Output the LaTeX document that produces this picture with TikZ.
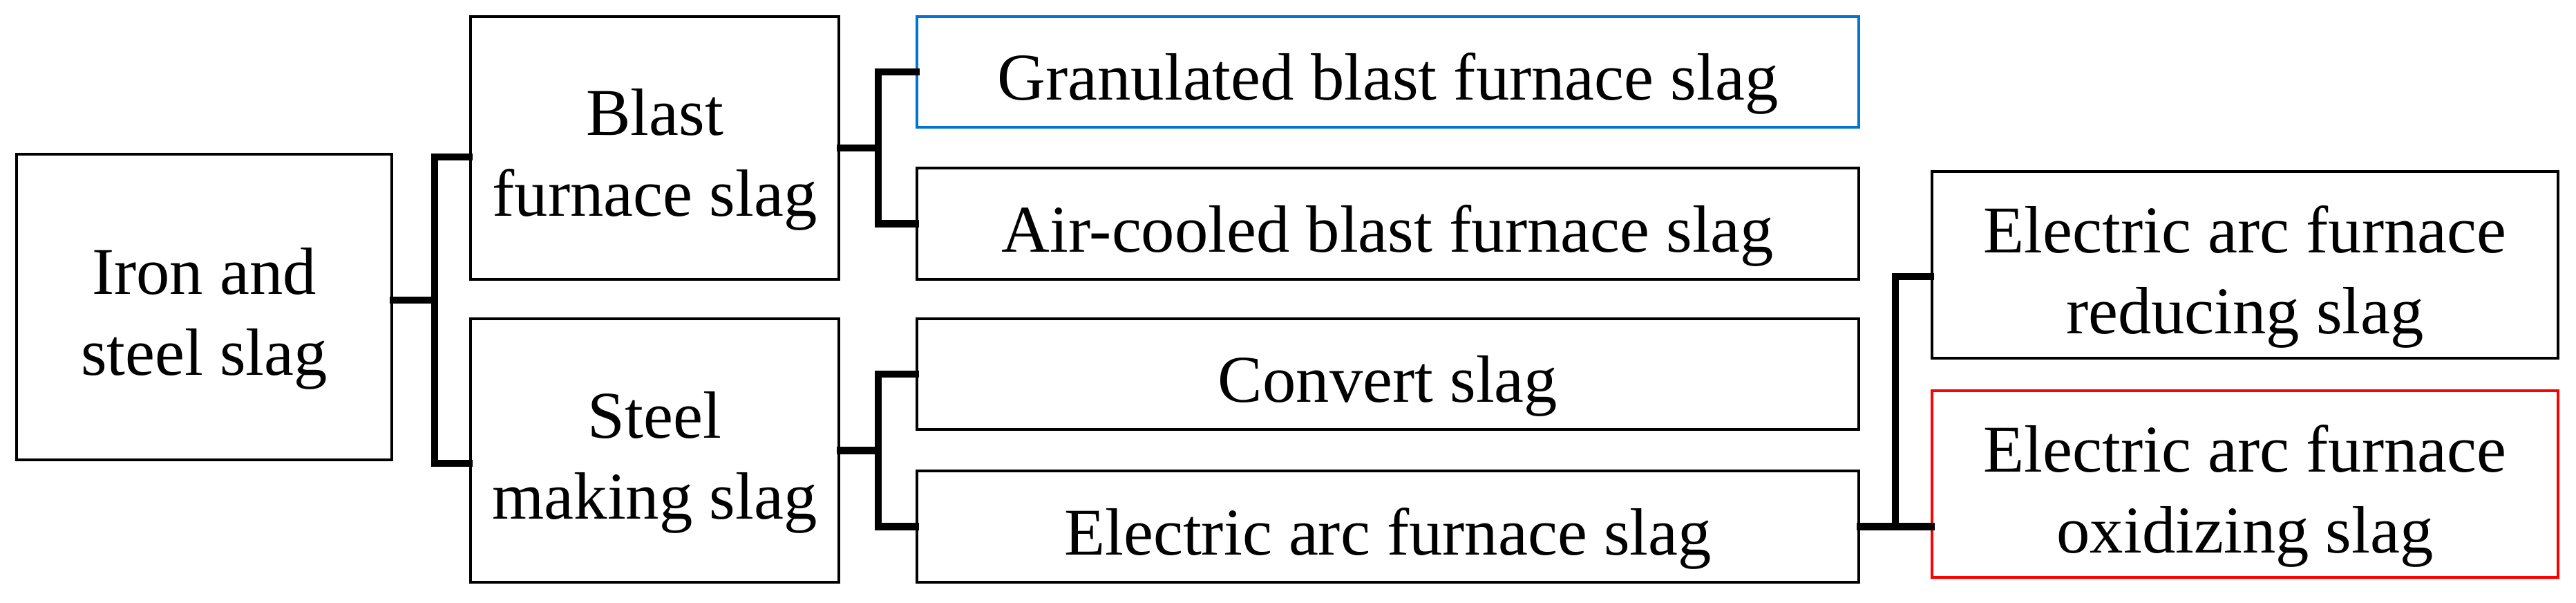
\documentclass[tikz,border=0pt]{standalone}
\usepackage{fontspec}
\setmainfont{Liberation Serif}
\usetikzlibrary{calc}
\definecolor{boxblue}{RGB}{0,116,210}
\definecolor{boxred}{RGB}{255,0,0}
\tikzset{
  box/.style={draw=black, line width=1.3pt, fill=white, inner sep=0pt},
  lbl/.style={align=center, font=\fontsize{27.5pt}{33.3pt}\selectfont, yshift=-0.17cm, inner sep=0pt},
  conn/.style={draw=black, line width=3.1pt, line cap=rect},
}
\begin{document}
\begin{tikzpicture}
\useasboundingbox (0,0) rectangle (37.28,8.72);
% level 1
\node[box, minimum width=5.43cm, minimum height=4.42cm, label={[lbl, name=tRoot]center:{Iron and\\steel slag}}] (root) at (2.955,4.28) {};
% level 2
\node[box, minimum width=5.33cm, minimum height=3.80cm, label={[lbl, name=tBlast]center:{Blast\\furnace slag}}] (blast) at (9.475,6.58) {};
\node[box, minimum width=5.33cm, minimum height=3.81cm, label={[lbl, name=tSteel]center:{Steel\\making slag}}] (steel) at (9.475,2.205) {};
% level 3
\node[box, draw=boxblue, line width=1.1pt, minimum width=13.63cm, minimum height=1.60cm, label={[lbl, name=tGran]center:{Granulated blast furnace slag}}] (gran) at (20.085,7.68) {};
\node[box, minimum width=13.63cm, minimum height=1.61cm, label={[lbl, name=tAir]center:{Air-cooled blast furnace slag}}] (air) at (20.085,5.485) {};
\node[box, minimum width=13.63cm, minimum height=1.60cm, label={[lbl, name=tConv]center:{Convert slag}}] (conv) at (20.085,3.31) {};
\node[box, minimum width=13.63cm, minimum height=1.61cm, label={[lbl, name=tEaf]center:{Electric arc furnace slag}}] (eaf) at (20.085,1.105) {};
% level 4
\node[box, minimum width=9.06cm, minimum height=2.70cm, label={[lbl, name=tRed]center:{Electric arc furnace\\reducing slag}}] (red) at (32.49,4.89) {};
\node[box, draw=boxred, line width=1.1pt, minimum width=9.06cm, minimum height=2.70cm, label={[lbl, name=tOx]center:{Electric arc furnace\\oxidizing slag}}] (ox) at (32.49,1.72) {};
% junction columns and attachment points
\coordinate (k1) at (6.29,0);
\coordinate (k2) at (12.71,0);
\coordinate (k4) at (27.43,0);
\coordinate (rootOut) at ([yshift=0.10cm]root.east);
\coordinate (blastIn) at ([yshift=-0.13cm]blast.west);
\coordinate (steelIn) at ([yshift=-0.185cm]steel.west);
\coordinate (redIn) at ([yshift=-0.17cm]red.west);
% connectors
\draw[conn] (rootOut) -- (rootOut -| k1);
\draw[conn] (blastIn) -| (k1 |- steelIn) -- (steelIn);
\draw[conn] (blast.east) -- (blast.east -| k2);
\draw[conn] (gran.west) -| (k2 |- air.west) -- (air.west);
\draw[conn] (steel.east) -- (steel.east -| k2);
\draw[conn] (conv.west) -| (k2 |- eaf.west) -- (eaf.west);
\draw[conn] (eaf.east) -- (eaf.east -| ox.west);
\draw[conn] (redIn) -| (eaf.east -| k4);
\end{tikzpicture}
\end{document}
